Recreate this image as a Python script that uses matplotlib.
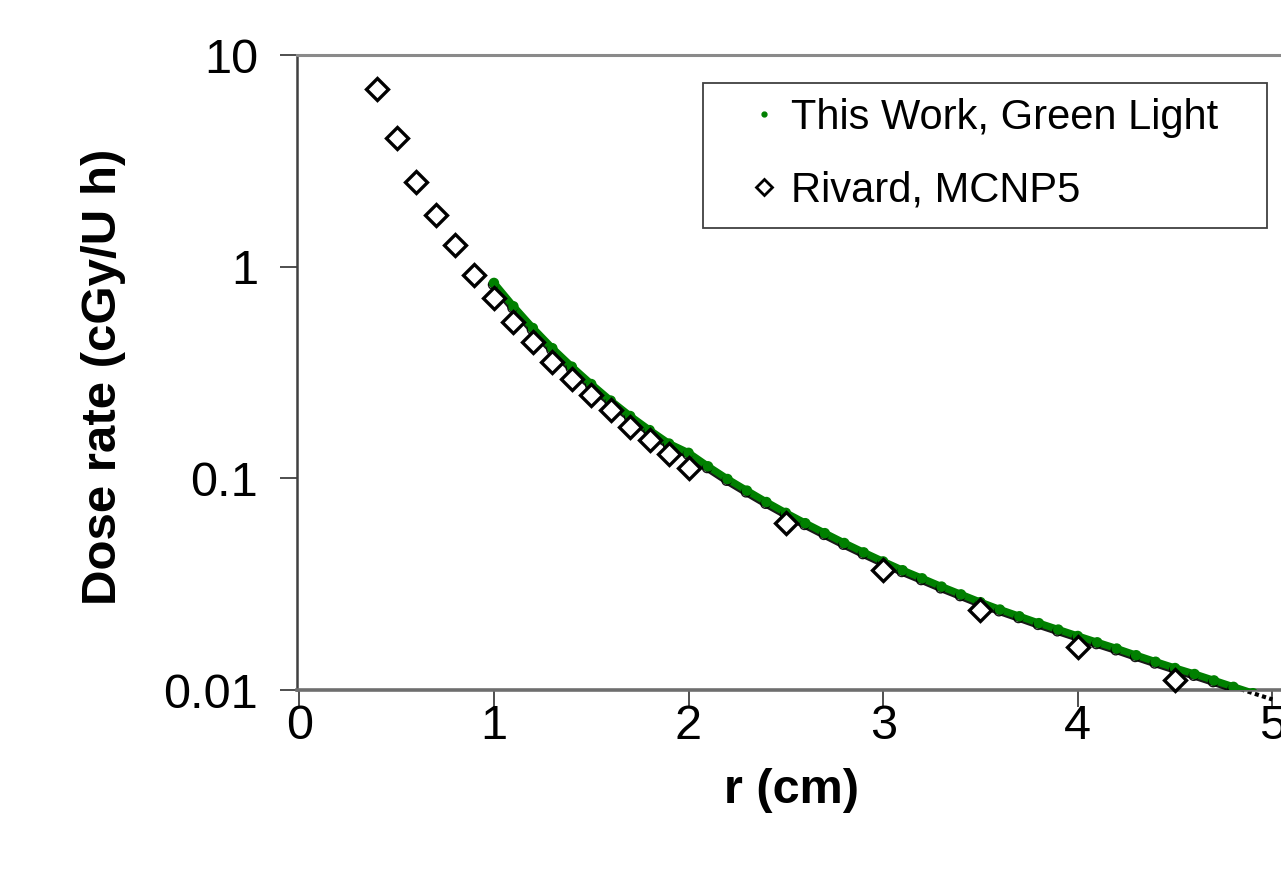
import matplotlib
matplotlib.use("Agg")
import matplotlib.pyplot as plt
import matplotlib.patheffects as pe
from matplotlib.lines import Line2D
from matplotlib.patches import Rectangle
from matplotlib.ticker import FixedLocator, NullLocator, FixedFormatter

# ---------------- data ----------------
work_r = [1.0, 1.1, 1.2, 1.3, 1.4, 1.5, 1.6, 1.7, 1.8, 1.9,
          2.0, 2.1, 2.2, 2.3, 2.4, 2.5, 2.6, 2.7, 2.8, 2.9,
          3.0, 3.1, 3.2, 3.3, 3.4, 3.5, 3.6, 3.7, 3.8, 3.9,
          4.0, 4.1, 4.2, 4.3, 4.4, 4.5, 4.6, 4.7, 4.8, 4.9, 5.0]
work_dose = [0.838, 0.650, 0.513, 0.412, 0.337, 0.279, 0.233, 0.197, 0.169, 0.146,
             0.132, 0.114, 0.0993, 0.0875, 0.0773, 0.0687, 0.0614, 0.0551, 0.0495, 0.0447,
             0.0405, 0.0368, 0.0337, 0.0308, 0.0283, 0.0260, 0.0240, 0.0223, 0.0207, 0.0193,
             0.0180, 0.0168, 0.0157, 0.0146, 0.0136, 0.0127, 0.0119, 0.0111, 0.01035, 0.00966, 0.00902]

rivard_r = [0.4, 0.5, 0.6, 0.7, 0.8, 0.9, 1.0, 1.1, 1.2, 1.3, 1.4, 1.5,
            1.6, 1.7, 1.8, 1.9, 2.0, 2.5, 3.0, 3.5, 4.0, 4.5]
rivard_dose = [6.9, 4.05, 2.51, 1.75, 1.27, 0.914, 0.71, 0.548, 0.441, 0.355, 0.295, 0.248,
               0.210, 0.175, 0.152, 0.130, 0.112, 0.0615, 0.0369, 0.0239, 0.016, 0.0112]

y_ticks = [0.01, 0.1, 1, 10]
y_tick_labels = ["0.01", "0.1", "1", "10"]
x_ticks = [0, 1, 2, 3, 4, 5]
x_tick_labels = ["0", "1", "2", "3", "4", "5"]

label_work = "This Work, Green Light"
label_rivard = "Rivard, MCNP5"
x_label = "r (cm)"
y_label = "Dose rate (cGy/U h)"

plt.rcParams["font.family"] = ["Liberation Sans", "DejaVu Sans"]

W, H = 1281, 871
fig = plt.figure(figsize=(W / 100, H / 100), dpi=100)
fig.patch.set_facecolor("white")

ax = fig.add_axes([297 / W, (H - 690) / H, 1170 / W, 635 / H])
ax.set_yscale("log")
ax.set_xlim(-0.012, 6)
ax.set_ylim(0.01, 10)

# tail below the axis (black), then green curve with dark shadow
tail_r = [r for r in work_r if r >= 4.8]
tail_d = [d for r, d in zip(work_r, work_dose) if r >= 4.8]
ax.plot(tail_r, tail_d, color="black", lw=3, ls=(0, (1, 0.8)), clip_on=False, zorder=2)

green, = ax.plot(work_r, work_dose, color="#008000", lw=5.2, marker="o", ms=6.5,
                 mec="#008000", mfc="#008000", zorder=3)
green.set_path_effects([pe.SimpleLineShadow(offset=(-0.7, -1.3), shadow_color="black", alpha=0.9),
                        pe.Normal()])

ax.plot(rivard_r, rivard_dose, ls="none", marker="D", ms=11, mfc="white", mec="black",
        mew=2.4, zorder=4, clip_on=False)

# spines
ax.spines["right"].set_visible(False)
ax.spines["top"].set_color("#8a8a8a")
ax.spines["top"].set_linewidth(2.2)
ax.spines["bottom"].set_color("#6e6e6e")
ax.spines["bottom"].set_linewidth(2.6)
ax.spines["left"].set_color("#404040")
ax.spines["left"].set_linewidth(1.8)

ax.yaxis.set_major_locator(FixedLocator(y_ticks))
ax.yaxis.set_major_formatter(FixedFormatter(y_tick_labels))
ax.yaxis.set_minor_locator(NullLocator())
ax.xaxis.set_major_locator(FixedLocator(x_ticks))
ax.xaxis.set_major_formatter(FixedFormatter(x_tick_labels))
ax.tick_params(axis="both", direction="out", length=12, width=1.2, color="#303030",
               labelsize=35, labelcolor="black")
ax.tick_params(axis="y", pad=16)
ax.tick_params(axis="x", pad=-2)
ax.tick_params(top=False, right=False)

ax.set_xlabel(x_label, fontsize=35, fontweight="bold")
ax.xaxis.set_label_coords((792 - 297) / 1170, (690 - 790) / 635)
ax.xaxis.label.set_va("center")

fig.text(104 / W, 1 - 377 / H, y_label, rotation=90, fontsize=35.5, fontweight="bold",
         ha="center", va="center")

# legend
handles = [Line2D([], [], ls="none", marker="o", ms=3.5, color="#008000"),
           Line2D([], [], ls="none", marker="D", ms=8, mfc="white", mec="black", mew=2)]
leg = fig.legend(handles, [label_work, label_rivard], loc="upper left",
                 bbox_to_anchor=(745 / W, 1 - 98 / H), frameon=False, fontsize=30,
                 handlelength=0.9, handletextpad=0.2, labelspacing=0.78, borderpad=0,
                 borderaxespad=0)
fig.patches.append(Rectangle((703 / W, 1 - 228 / H), (1267 - 703) / W, (228 - 83) / H,
                             transform=fig.transFigure, fill=False, ec="#404040", lw=1.3,
                             zorder=5))

fig.savefig("out.png", dpi=100)
